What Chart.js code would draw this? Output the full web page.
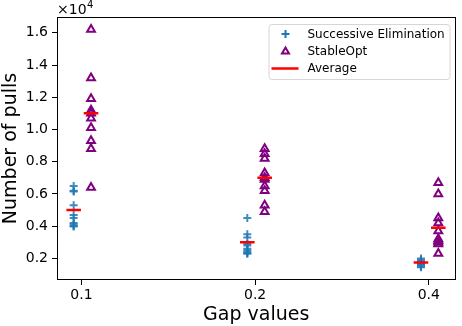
<!DOCTYPE html>
<html>
<head>
<meta charset="utf-8">
<script src="https://cdn.jsdelivr.net/npm/chart.js@4.4.1/dist/chart.umd.min.js"></script>
<style>
    html, body { margin: 0; padding: 0; background: #fff; }
</style>
</head>
<body>
<canvas id="chart" width="462" height="326"></canvas>
<script>
// gap values (categories) and tick labels
var gapLabels = ["0.1", "0.2", "0.4"];
var yTicks = [2000, 4000, 6000, 8000, 10000, 12000, 14000, 16000];

// number of pulls per run, one row per gap value
var seValues = [
    [6500, 6150, 6200, 5300, 4700, 4500, 4200, 4000, 4100, 4000],
    [4500, 3500, 3300, 2900, 2800, 2600, 2500, 2400, 2300, 2300],
    [2000, 1900, 1800, 1800, 1700, 1700, 1600, 1600, 1500, 1450]
];
var soValues = [
    [16200, 13200, 11900, 11200, 11000, 10700, 10100, 9300, 8800, 6400],
    [8800, 8500, 8200, 7300, 7000, 6900, 6500, 6200, 5300, 4900],
    [6700, 6000, 4500, 4200, 3700, 3200, 3100, 3000, 2900, 2300]
];
// averages shown by the red bars
var seAvg = [5000, 3000, 1750];
var soAvg = [11000, 7000, 3900];

var SE_OFF = -0.045, SO_OFF = 0.055, HALF = 0.042;
var FONT = "'DejaVu Sans', sans-serif";

function toPoints(rows, off) {
    var pts = [];
    rows.forEach(function (row, i) {
        row.forEach(function (v) { pts.push({ x: i + off, y: v }); });
    });
    return pts;
}

function avgSegments() {
    var pts = [];
    [[seAvg, SE_OFF], [soAvg, SO_OFF]].forEach(function (pair) {
        pair[0].forEach(function (v, i) {
            var cx = i + pair[1];
            pts.push({ x: cx - HALF, y: v });
            pts.push({ x: cx + HALF, y: v });
            pts.push({ x: cx + HALF, y: null });
        });
    });
    return pts;
}

// frame, x10^4 label and boxed legend
var decorations = {
    id: 'decorations',
    afterDraw: function (chart) {
        var ctx = chart.ctx;
        var a = chart.chartArea;
        ctx.save();
        ctx.strokeStyle = '#000';
        ctx.lineWidth = 1;
        ctx.strokeRect(Math.round(a.left) + 0.5, Math.round(a.top) + 0.5,
            Math.round(a.right - a.left) - 1, Math.round(a.bottom - a.top) - 1);

        ctx.fillStyle = '#000';
        ctx.textBaseline = 'alphabetic';
        ctx.textAlign = 'left';
        ctx.font = '14px ' + FONT;
        ctx.fillText('\u00d710', a.left, 13.5);
        var w = ctx.measureText('\u00d710').width;
        ctx.font = '10px ' + FONT;
        ctx.fillText('4', a.left + w + 0.5, 8);

        // legend
        var bx = a.right - 187, by = a.top + 7, bw = 181, bh = 55;
        ctx.beginPath();
        if (ctx.roundRect) ctx.roundRect(bx + 0.5, by + 0.5, bw, bh, 3);
        else ctx.rect(bx + 0.5, by + 0.5, bw, bh);
        ctx.fillStyle = 'rgba(255,255,255,0.8)';
        ctx.fill();
        ctx.strokeStyle = '#d6d6d6';
        ctx.stroke();

        var mx = bx + 17;
        var rows = [by + 10, by + 27.5, by + 44.5];
        // plus
        ctx.strokeStyle = '#1f77b4';
        ctx.lineWidth = 2;
        ctx.beginPath();
        ctx.moveTo(mx - 4, rows[0]); ctx.lineTo(mx + 4, rows[0]);
        ctx.moveTo(mx, rows[0] - 4); ctx.lineTo(mx, rows[0] + 4);
        ctx.stroke();
        // triangle
        ctx.strokeStyle = '#800080';
        ctx.lineWidth = 2;
        ctx.beginPath();
        ctx.moveTo(mx, rows[1] - 4);
        ctx.lineTo(mx + 3.5, rows[1] + 2);
        ctx.lineTo(mx - 3.5, rows[1] + 2);
        ctx.closePath();
        ctx.stroke();
        // red line
        ctx.strokeStyle = '#ff0000';
        ctx.lineWidth = 2.5;
        ctx.beginPath();
        ctx.moveTo(bx + 3, rows[2]); ctx.lineTo(bx + 30, rows[2]);
        ctx.stroke();

        ctx.fillStyle = '#000';
        ctx.font = '12px ' + FONT;
        ctx.textBaseline = 'middle';
        var names = ['Successive Elimination', 'StableOpt', 'Average'];
        names.forEach(function (n, i) { ctx.fillText(n, bx + 39, rows[i] + 0.5); });
        ctx.restore();
    }
};

var ctx = document.getElementById('chart').getContext('2d');
var chart = new Chart(ctx, {
    type: 'scatter',
    plugins: [decorations],
    data: {
        datasets: [{
            label: 'Average',
            type: 'line',
            data: avgSegments(),
            borderColor: '#ff0000',
            borderWidth: 2.5,
            pointRadius: 0,
            spanGaps: false,
            order: 0
        }, {
            label: 'Successive Elimination',
            data: toPoints(seValues, SE_OFF),
            pointStyle: 'cross',
            pointRadius: 4,
            borderColor: 'rgba(31,119,180,0.85)',
            borderWidth: 2,
            order: 1
        }, {
            label: 'StableOpt',
            data: toPoints(soValues, SO_OFF),
            pointStyle: 'triangle',
            pointRadius: 4.5,
            backgroundColor: 'rgba(0,0,0,0)',
            borderColor: '#800080',
            borderWidth: 2,
            order: 2
        }]
    },
    options: {
        responsive: false,
        animation: false,
        events: [],
        layout: { padding: { top: 17, right: 2, left: 0, bottom: 0 } },
        plugins: {
            legend: { display: false },
            tooltip: { enabled: false }
        },
        scales: {
            x: {
                type: 'linear',
                min: -0.141,
                max: 2.154,
                afterBuildTicks: function (scale) {
                    scale.ticks = gapLabels.map(function (l, i) { return { value: i }; });
                },
                afterFit: function (scale) { scale.height = 46; },
                ticks: {
                    color: '#000',
                    font: { family: FONT, size: 14 },
                    padding: 2,
                    maxRotation: 0,
                    callback: function (v) { return gapLabels[v]; }
                },
                grid: { drawOnChartArea: false, drawTicks: true, tickLength: 5, tickColor: '#000' },
                border: { display: false },
                title: {
                    display: true,
                    text: 'Gap values',
                    color: '#000',
                    font: { family: FONT, size: 19 },
                    padding: { top: 0, bottom: 0 }
                }
            },
            y: {
                min: 660,
                max: 16980,
                afterBuildTicks: function (scale) {
                    scale.ticks = yTicks.map(function (v) { return { value: v }; });
                },
                afterFit: function (scale) { scale.width = 57; },
                ticks: {
                    color: '#000',
                    font: { family: FONT, size: 14 },
                    padding: 4,
                    callback: function (v) { return (v / 10000).toFixed(1); }
                },
                grid: { drawOnChartArea: false, drawTicks: true, tickLength: 5, tickColor: '#000' },
                border: { display: false },
                title: {
                    display: true,
                    text: 'Number of pulls',
                    color: '#000',
                    font: { family: FONT, size: 19 },
                    padding: { top: 0, bottom: 0 }
                }
            }
        }
    }
});
</script>
</body>
</html>
